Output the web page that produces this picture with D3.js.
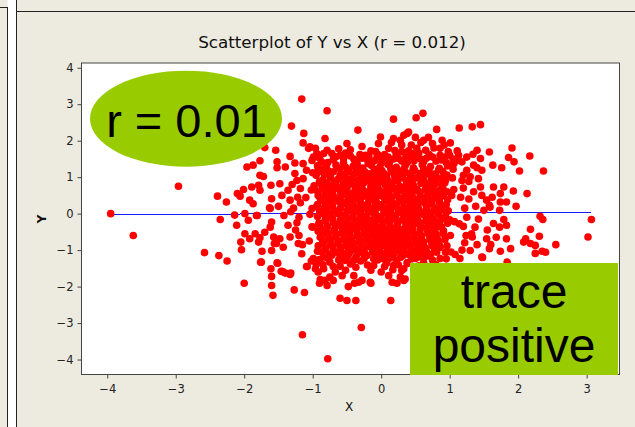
<!DOCTYPE html>
<html>
<head>
<meta charset="utf-8">
<script src="https://cdn.jsdelivr.net/npm/d3@7/dist/d3.min.js"></script>
<style>
  html, body { margin: 0; padding: 0; background: #EDEAE0; }
  svg { display: block; }
  text { font-family: "Liberation Sans", Arial, sans-serif; }
</style>
</head>
<body>
<svg id="chart" width="635" height="427"></svg>
<script>
// Axis ticks
const xTicks = [-4, -3, -2, -1, 0, 1, 2, 3];
const yTicks = [-4, -3, -2, -1, 0, 1, 2, 3, 4];

// Fitted regression line end points (X, Y)
const fitX = [-3.95, 3.07];
const fitY = [-0.03, 0.045];

// Sparse points away from the centre of the cloud
const tailPoints = [
  [-3.95,0.00],[-2.96,0.75],[-3.62,-0.60],[-2.58,-1.07],[-2.37,-1.15],[-2.25,-1.30],
  [-2.39,0.48],[-2.26,0.32],[-2.35,-0.16],[-2.14,-0.04],[-2.10,0.55],[-2.11,-0.32],
  [-2.05,-0.78],[-2.04,-0.99],[-2.00,-1.91],[-1.99,0.00],[-1.94,-0.18],[-1.99,-0.55],
  [-1.92,-0.69],[-1.87,0.27],[-1.81,-0.05],[-1.84,-0.55],[-1.77,-0.66],[-1.79,-0.78],
  [-1.74,-1.03],[-1.76,-1.33],[-1.63,0.16],[-1.70,-0.51],[-1.62,-0.37],[-1.60,-0.23],
  [-1.57,-0.64],[-1.56,-0.82],[-1.60,-1.01],[-1.53,-0.82],[-1.52,-1.35],[-1.61,-1.51],
  [-1.60,-1.72],[-1.60,-1.97],[-1.58,-2.24],[-1.46,-1.58],[-1.40,-1.63],[-1.33,-1.67],
  [-1.27,-2.09],[-1.12,-2.16],[-1.48,-0.69],[-1.43,-0.92],[-1.36,-0.32],[-1.33,-0.64],
  [-1.21,-0.82],[-1.16,-1.10],[-1.09,-1.45],[-0.99,-1.23],[-0.96,-1.51],[-0.90,-1.91],
  [-0.89,-1.81],[-0.92,-1.60],[-1.08,-1.45],[-1.32,-1.63],[-1.44,-1.59],[-1.51,-1.36],
  [-1.75,-1.33],[-0.75,-1.33],[-0.70,-1.83],[-0.75,-1.74],[-0.57,-1.70],[-0.53,-1.28],
  [-0.37,-1.47],[-0.40,-1.70],[-0.33,-1.88],[-0.25,-1.05],[-0.11,-1.24],[0.03,-1.24],
  [0.17,-1.54],[0.28,-1.74],[0.33,-1.83],[0.23,-1.91],[0.33,-1.51],[0.11,-1.70],
  [-0.67,-1.60],[-0.28,-1.83],[-0.16,-1.88],[-0.39,-1.91],[-0.11,-1.42],[0.00,-1.60],
  [0.16,-1.88],[0.30,-1.56],[0.35,-1.79],[0.38,-1.37],[-0.84,-1.51],[-0.82,-1.83],
  [-0.79,-1.97],[-1.15,-3.32],[-0.78,-3.98],[-0.60,-2.32],[-0.50,-2.38],[-0.37,-2.38],
  [-0.29,-3.12],[0.14,-2.38],[-0.15,-1.91],[-0.48,-2.00],
  [-1.16,3.14],[-0.79,2.82],[-1.31,2.40],[-1.13,2.20],[-1.14,1.94],[-1.06,1.79],
  [-0.96,1.79],[-0.82,2.06],[-0.99,1.55],[-1.54,1.74],[-1.70,1.81],[-1.33,1.57],
  [-1.52,1.42],[-1.77,1.45],[-1.87,1.33],[-1.96,1.28],[-1.52,1.26],[-1.40,1.28],
  [-1.26,1.39],[-1.14,1.37],[-0.92,1.24],[-1.77,1.05],[-1.72,1.02],[-1.61,0.78],
  [-1.77,0.64],[-1.79,0.78],[-1.89,0.73],[-2.01,0.66],[-2.06,0.48],[-1.92,0.37],
  [-1.82,-0.05],[-1.62,0.14],[-1.60,0.41],[-1.48,0.82],[-1.36,0.64],[-1.33,0.37],
  [-1.23,0.91],[-1.18,0.69],[-1.14,0.96],[-1.09,1.19],[-1.01,1.46],[-0.94,1.65],
  [-0.87,1.42],[-0.79,1.74],[-0.95,1.05],
  [-0.34,2.29],[-0.50,1.92],[0.18,2.59],[0.51,2.63],[0.61,2.75],[0.40,2.24],
  [-0.01,2.10],[-0.04,1.92],[0.18,2.06],[0.28,2.01],[0.33,2.15],[0.52,1.79],
  [0.62,2.01],[0.11,1.79],[-0.23,1.60],[-0.36,1.45],[-0.19,1.37],[-0.06,1.55],
  [-0.55,1.51],[-0.60,1.60],[-0.72,1.65],[-1.04,1.83],[0.30,1.88],[-0.38,1.42],
  [-0.84,1.65],
  [0.38,2.20],[0.50,2.09],[0.69,2.09],[0.81,2.31],[1.14,2.35],[1.33,2.38],
  [1.45,2.44],[0.89,2.01],[1.01,1.94],[0.86,1.79],[1.11,1.72],[1.40,1.74],
  [1.58,1.69],[1.91,1.80],[2.17,1.58],[2.37,1.17],[2.02,1.17],[1.86,1.54],
  [1.94,1.42],[1.76,1.26],[1.63,1.33],[1.45,1.51],[1.34,1.63],[1.40,1.26],
  [1.79,0.73],[1.93,0.62],[2.13,0.55],[1.97,0.20],[1.74,0.32],[1.83,0.32],
  [1.47,0.50],[1.54,0.37],[1.58,0.23],[1.73,0.09],[2.32,-0.07],[2.36,-0.16],
  [3.07,-0.16],[3.02,-0.64],[2.18,-0.43],[2.31,-0.62],[2.11,-0.69],[2.08,-0.78],
  [2.18,-0.82],[2.25,-0.87],[2.35,-1.03],[2.55,-0.85],[1.83,-0.69],[1.89,-0.96],
  [1.74,-1.03],[1.84,-1.33],[1.58,-0.96],[1.64,-0.27],[1.73,-0.37],[1.83,-0.32],
  [1.79,-0.16],[1.54,-0.69],[1.47,-1.19],[1.30,-1.01],[1.33,-0.64],[1.37,-0.37],
  [1.59,0.18],[1.50,0.09],[1.74,0.55],[1.64,0.73],[1.45,0.73],[1.42,0.96],
  [1.47,1.19],[1.35,1.33],[1.25,1.19],[1.30,1.01],[1.18,0.91],[1.25,1.55],
  [1.18,1.42],[1.13,1.60],[1.06,1.37],
  [0.32,-1.15],[0.38,-1.34],[0.57,-1.06],[0.72,-1.12],[0.94,-1.06],[1.08,-1.12],
  [1.48,-1.20],[2.25,-1.09],[2.40,-1.06],[1.15,-1.23],[0.86,-1.23],[0.50,-1.23],
  [0.64,-1.01],
  [1.20,0.70],[1.28,0.40],[1.22,0.15],[1.35,0.60],[1.25,-0.10],[1.38,0.20],
  [1.20,-0.35],[1.32,-0.55],[1.22,-0.80],[1.40,-0.85],[1.18,-1.00],[1.28,0.88],
  [1.42,-0.15],[1.55,-0.45],[1.62,0.45],[1.68,-0.65],[1.60,-0.85],
  [-1.22,0.45],[-1.28,0.15],[-1.20,-0.10],[-1.25,-0.45],[-1.30,0.80],[-1.45,0.50],
  [-1.50,0.20],[-1.42,-0.05],[-1.20,-0.60],[-1.26,1.10],
  [-0.90,1.52],[-0.78,1.40],[-0.66,1.56],[-0.52,1.66],[-0.40,1.50],[-0.31,1.62],
  [-0.20,1.48],[-0.08,1.70],[0.02,1.50],[0.12,1.40],[0.22,1.62],[0.36,1.55],
  [0.48,1.45],[0.55,1.66],[0.66,1.52],[0.77,1.80],[0.86,1.60],[0.98,1.70],
  [1.05,1.50],[0.15,1.95],[-0.28,1.84],[0.58,1.95],[0.92,1.88],[-0.45,1.75],[0.40,1.72],
  [-1.02,-1.30],[-0.70,-1.45],[-0.52,-1.55],[-0.30,-1.30],[-0.15,-1.55],[0.08,-1.35],
  [0.18,-1.42],[-0.95,-1.38],[0.62,-1.35],[0.80,-1.40],
  [-1.18,0.30],[-1.23,-0.25],[-1.15,-0.85],[-1.32,0.05],
  [1.16,0.45],[1.24,-0.60],[1.14,-0.28],[1.20,1.05],
  [-0.55,1.40],[-0.35,1.36],[-0.18,1.58],[0.00,1.38],[0.10,1.55],[0.25,1.52],
  [0.38,1.40],[0.52,1.58],[0.62,1.42],[0.75,1.55],[0.88,1.47],[1.00,1.60],
  [1.10,1.45],[0.45,1.65],[-0.05,1.62],[0.20,1.73]
];

// Dense centre of the cloud
const corePoints = [
  [-0.93,1.31],[-0.80,1.28],[-0.66,1.33],[-0.52,1.27],[-0.41,1.30],[-0.27,1.25],[-0.14,1.32],
  [-0.02,1.28],[0.10,1.35],[0.22,1.27],[0.35,1.31],[0.47,1.26],[0.60,1.34],[0.72,1.29],
  [0.85,1.24],[0.97,1.31],[1.05,1.22],
  [-0.70,1.48],[-0.45,1.58],[-0.28,1.52],[-0.10,1.45],[0.05,1.62],[0.18,1.50],[0.30,1.44],
  [0.42,1.57],[0.58,1.49],[0.70,1.62],[0.80,1.44],[0.93,1.55],[0.65,1.74],[0.30,1.70],
  [-0.15,1.72],[0.44,1.88],[0.75,1.92],[-0.62,1.78],[0.95,1.40],
  [-1.00,1.12],[-0.90,1.16],[-0.79,1.10],[-0.70,1.15],[-0.58,1.09],[-0.49,1.14],[-0.38,1.11],
  [-0.28,1.17],[-0.17,1.09],[-0.07,1.14],[0.04,1.10],[0.15,1.16],[0.25,1.08],[0.36,1.13],
  [0.46,1.17],[0.57,1.10],[0.68,1.14],[0.79,1.09],[0.90,1.16],
  [-0.85,0.93],[-0.74,0.98],[-0.63,0.94],[-0.54,1.00],[-0.43,0.95],
  [-0.33,0.92],[-0.22,0.98],[-0.12,0.94],[-0.01,0.99],[0.09,0.93],[0.20,0.97],[0.31,1.00],
  [0.41,0.94],[0.51,0.98],[0.62,0.93],[0.73,0.99],[0.83,0.95],[0.94,0.92],[1.04,0.98],
  [-0.98,0.76],[-0.88,0.82],[-0.77,0.78],[-0.67,0.81],[-0.57,0.75],[-0.47,0.80],
  [-0.36,0.77],[-0.26,0.83],[-0.15,0.76],[-0.05,0.80],[0.06,0.78],[0.16,0.82],[0.27,0.75],
  [0.37,0.80],[0.47,0.77],[0.58,0.83],[0.68,0.76],[0.79,0.81],[0.89,0.78],
  [-1.02,0.65],[-0.92,0.59],[-0.81,0.63],[-0.71,0.60],[-0.61,0.66],[-0.50,0.61],
  [-0.40,0.58],[-0.30,0.64],[-0.19,0.60],[-0.09,0.65],[0.02,0.59],[0.12,0.63],[0.23,0.60],
  [0.33,0.66],[0.43,0.58],[0.54,0.62],[0.64,0.65],[0.75,0.59],[0.85,0.63],[0.96,0.60],
  [1.06,0.66],
  [-1.10,0.44],[-0.89,0.42],[-0.79,0.47],[-0.68,0.43],[-0.58,0.49],[-0.48,0.44],
  [-0.37,0.41],[-0.27,0.47],[-0.16,0.43],[-0.06,0.48],[0.05,0.42],[0.15,0.46],[0.26,0.43],
  [0.36,0.49],[0.46,0.44],[0.57,0.41],[0.67,0.47],[0.78,0.43],[0.88,0.48],
  [-0.93,0.25],[-0.82,0.30],[-0.72,0.26],[-0.61,0.32],[-0.51,0.27],
  [-0.41,0.24],[-0.30,0.30],[-0.20,0.26],[-0.09,0.31],[0.01,0.25],[0.12,0.29],[0.22,0.26],
  [0.32,0.32],[0.43,0.27],[0.53,0.24],[0.64,0.30],[0.74,0.26],[0.85,0.31],[0.95,0.25],
  [-1.01,0.14],[-0.90,0.08],[-0.80,0.13],[-0.69,0.09],[-0.59,0.15],[-0.49,0.10],
  [-0.38,0.07],[-0.28,0.13],[-0.17,0.09],[-0.07,0.14],[0.04,0.08],[0.14,0.12],[0.25,0.09],
  [0.35,0.15],[0.45,0.10],[0.56,0.07],[0.66,0.13],[0.77,0.09],[0.87,0.14],[0.98,0.08],
  [-1.04,-0.02],[-0.93,-0.08],[-0.83,-0.03],[-0.73,-0.07],[-0.62,-0.01],[-0.52,-0.06],
  [-0.42,-0.09],[-0.31,-0.03],[-0.21,-0.07],[-0.10,-0.02],[0.00,-0.08],[0.11,-0.04],[0.21,-0.07],
  [0.32,-0.01],[0.42,-0.06],[0.52,-0.09],[0.63,-0.03],[0.73,-0.07],[0.84,-0.02],[0.94,-0.08],
  [-0.91,-0.26],[-0.81,-0.21],[-0.70,-0.25],[-0.60,-0.19],[-0.50,-0.24],
  [-0.39,-0.27],[-0.29,-0.21],[-0.18,-0.25],[-0.08,-0.20],[0.03,-0.26],[0.13,-0.22],[0.24,-0.25],
  [0.34,-0.19],[0.44,-0.24],[0.55,-0.27],[0.65,-0.21],[0.76,-0.25],[0.86,-0.20],[0.97,-0.26],[1.07,-0.22],
  [-1.00,-0.37],[-0.89,-0.43],[-0.79,-0.38],[-0.68,-0.42],[-0.58,-0.36],[-0.48,-0.41],
  [-0.37,-0.44],[-0.27,-0.38],[-0.16,-0.42],[-0.06,-0.37],[0.05,-0.43],[0.15,-0.39],[0.26,-0.42],
  [0.36,-0.36],[0.46,-0.41],[0.57,-0.44],[0.67,-0.38],[0.78,-0.42],[0.88,-0.37],
  [-0.87,-0.60],[-0.77,-0.55],[-0.66,-0.59],[-0.56,-0.53],[-0.46,-0.58],
  [-0.35,-0.61],[-0.25,-0.55],[-0.14,-0.59],[-0.04,-0.54],[0.07,-0.60],[0.17,-0.56],[0.28,-0.59],
  [0.38,-0.53],[0.48,-0.58],[0.59,-0.61],[0.69,-0.55],[0.80,-0.59],[0.90,-0.54],[1.01,-0.60],
  [-1.05,-0.75],[-0.84,-0.77],[-0.74,-0.72],[-0.63,-0.76],[-0.53,-0.70],[-0.43,-0.75],
  [-0.32,-0.78],[-0.22,-0.72],[-0.11,-0.76],[-0.01,-0.71],[0.10,-0.77],[0.20,-0.73],[0.31,-0.76],
  [0.41,-0.70],[0.51,-0.75],[0.62,-0.78],[0.72,-0.72],[0.83,-0.76],[0.93,-0.71],
  [-0.92,-0.88],[-0.81,-0.94],[-0.71,-0.89],[-0.60,-0.93],[-0.50,-0.87],[-0.40,-0.92],
  [-0.29,-0.95],[-0.19,-0.89],[-0.08,-0.93],[0.02,-0.88],[0.13,-0.94],[0.23,-0.90],[0.34,-0.93],
  [0.44,-0.87],[0.54,-0.92],[0.65,-0.95],[0.75,-0.89],[0.86,-0.93],[0.96,-0.88],
  [-0.87,-1.05],[-0.76,-1.11],[-0.66,-1.06],[-0.55,-1.10],[-0.45,-1.04],[-0.34,-1.09],
  [-0.24,-1.12],[-0.13,-1.06],[-0.03,-1.10],[0.08,-1.05],[0.18,-1.11],[0.29,-1.07],[0.39,-1.10],
  [0.50,-1.04],[0.60,-1.09],[0.71,-1.12],[0.81,-1.06],[1.02,-1.05],
  [-0.90,-1.26],[-0.78,-1.22],[-0.62,-1.27],[-0.50,-1.21],[-0.40,-1.28],[-0.25,-1.23],[-0.05,-1.27],
  [0.12,-1.22],[0.22,-1.29],[0.45,-1.24],[0.62,-1.21],[0.75,-1.27],[0.95,-1.24],
  [-0.85,-1.40],[-0.60,-1.44],[-0.45,-1.38],[-0.20,-1.41],[0.05,-1.45],[0.25,-1.40],[0.55,-1.43]
];

// More points filling the middle of the cloud
const innerPoints = [
  [-0.86,1.22],[-0.77,1.17],[-0.61,1.24],[-0.48,1.19],[-0.35,1.23],[-0.24,1.15],
  [-0.10,1.21],[0.01,1.18],[0.14,1.24],[0.27,1.16],[0.33,1.22],[0.49,1.19],[0.62,1.23],
  [0.70,1.16],[0.84,1.20],
  [-0.83,1.07],[-0.74,1.01],[-0.60,1.05],[-0.52,0.98],[-0.41,1.06],
  [-0.29,1.02],[-0.16,1.07],[-0.06,0.99],[0.08,1.04],[0.19,1.08],[0.30,0.98],[0.43,1.05],
  [0.55,1.01],[0.64,1.08],[0.77,1.02],[0.88,0.98],[0.96,1.06],
  [-0.90,0.89],[-0.80,0.84],[-0.68,0.88],[-0.55,0.82],[-0.44,0.87],
  [-0.33,0.85],[-0.21,0.90],[-0.10,0.83],[0.03,0.87],[0.12,0.84],[0.24,0.90],[0.37,0.85],
  [0.46,0.82],[0.60,0.88],[0.71,0.84],[0.80,0.90],[0.93,0.85],
  [-0.97,0.66],[-0.86,0.72],[-0.73,0.67],[-0.64,0.71],[-0.50,0.68],[-0.38,0.73],
  [-0.27,0.66],[-0.15,0.70],[-0.04,0.67],[0.09,0.72],[0.20,0.68],[0.29,0.64],[0.41,0.71],
  [0.52,0.67],[0.66,0.73],[0.76,0.66],[0.90,0.70],
  [-0.92,0.50],[-0.81,0.54],[-0.70,0.49],[-0.59,0.55],[-0.45,0.51],
  [-0.34,0.56],[-0.23,0.50],[-0.12,0.53],[0.00,0.49],[0.10,0.55],[0.23,0.51],[0.34,0.47],
  [0.45,0.54],[0.57,0.50],[0.69,0.55],[0.80,0.49],[0.91,0.53],[1.03,0.50],
  [-0.88,0.37],[-0.77,0.33],[-0.65,0.38],[-0.55,0.31],[-0.42,0.36],
  [-0.31,0.33],[-0.18,0.38],[-0.07,0.32],[0.06,0.36],[0.16,0.31],[0.28,0.37],[0.40,0.34],
  [0.51,0.38],[0.62,0.31],[0.73,0.36],[0.85,0.33],[0.97,0.38],
  [-0.94,0.20],[-0.83,0.16],[-0.71,0.21],[-0.60,0.14],[-0.47,0.19],
  [-0.36,0.16],[-0.25,0.21],[-0.13,0.15],[-0.02,0.19],[0.10,0.16],[0.21,0.21],[0.31,0.14],
  [0.43,0.19],[0.54,0.17],[0.66,0.21],[0.78,0.15],[0.88,0.19],
  [-0.87,0.03],[-0.76,-0.01],[-0.64,0.04],[-0.53,-0.03],[-0.41,0.02],
  [-0.30,-0.01],[-0.19,0.04],[-0.08,-0.02],[0.04,0.02],[0.16,-0.03],[0.27,0.03],[0.38,0.00],
  [0.49,0.04],[0.61,-0.02],[0.72,0.03],[0.83,-0.01],[0.95,0.03],
  [-0.82,-0.18],[-0.71,-0.13],[-0.59,-0.19],[-0.48,-0.15],
  [-0.36,-0.18],[-0.25,-0.13],[-0.14,-0.19],[-0.02,-0.15],[0.09,-0.18],[0.20,-0.13],[0.31,-0.17],
  [0.43,-0.14],[0.54,-0.19],[0.66,-0.15],[0.77,-0.18],[0.89,-0.13],[1.00,-0.17],
  [-1.01,-0.36],[-0.90,-0.31],[-0.79,-0.35],[-0.67,-0.30],[-0.56,-0.36],[-0.44,-0.32],
  [-0.33,-0.35],[-0.21,-0.30],[-0.10,-0.36],[0.02,-0.32],[0.13,-0.35],[0.24,-0.30],[0.36,-0.34],
  [0.47,-0.31],[0.58,-0.36],[0.70,-0.32],[0.81,-0.35],
  [-0.92,-0.48],[-0.80,-0.52],[-0.69,-0.47],[-0.58,-0.53],[-0.46,-0.49],
  [-0.35,-0.52],[-0.23,-0.47],[-0.12,-0.53],[-0.01,-0.49],[0.11,-0.52],[0.22,-0.47],[0.34,-0.51],
  [0.45,-0.48],[0.56,-0.53],[0.68,-0.49],[0.79,-0.52],[0.91,-0.47],
  [-0.89,-0.65],[-0.77,-0.69],[-0.66,-0.64],[-0.55,-0.70],[-0.43,-0.66],
  [-0.32,-0.69],[-0.20,-0.64],[-0.09,-0.70],[0.03,-0.66],[0.14,-0.69],[0.25,-0.64],[0.37,-0.68],
  [0.48,-0.65],[0.59,-0.70],[0.71,-0.66],[0.82,-0.69],[0.94,-0.64],
  [-0.86,-0.82],[-0.74,-0.86],[-0.63,-0.81],[-0.52,-0.87],[-0.40,-0.83],
  [-0.29,-0.86],[-0.17,-0.81],[-0.06,-0.87],[0.06,-0.83],[0.17,-0.86],[0.28,-0.81],[0.40,-0.85],
  [0.51,-0.82],[0.62,-0.87],[0.74,-0.83],[0.85,-0.86],
  [-0.93,-1.03],[-0.82,-0.98],[-0.70,-1.02],[-0.59,-0.97],[-0.48,-1.03],[-0.36,-0.99],
  [-0.25,-1.02],[-0.13,-0.97],[-0.02,-1.03],[0.10,-0.99],[0.21,-1.02],[0.32,-0.97],[0.44,-1.01],
  [0.55,-0.98],[0.66,-1.03],[0.78,-0.99],
  [-0.84,-1.19],[-0.72,-1.14],[-0.60,-1.18],[-0.48,-1.13],[-0.37,-1.19],[-0.21,-1.15],
  [-0.08,-1.18],[0.05,-1.13],[0.16,-1.18],[0.28,-1.20],[0.42,-1.14],[0.55,-1.19],[0.68,-1.16]
];

const titleText = "Scatterplot of Y vs X (r = 0.012)";
const calloutR = "r = 0.01";
const calloutTrace = ["trace", "positive"];

const svg = d3.select("#chart");
const W = 635, H = 427;

// Window chrome lines
svg.append("rect").attr("x", 7.5).attr("y", 0).attr("width", 8.5).attr("height", H).attr("fill", "#FFFFFF");
svg.append("line").attr("x1", 7.5).attr("x2", 7.5).attr("y1", 7).attr("y2", H).attr("stroke", "#222").attr("stroke-width", 1);
svg.append("line").attr("x1", 0).attr("x2", 7.5).attr("y1", 7.5).attr("y2", 7.5).attr("stroke", "#222").attr("stroke-width", 1);
svg.append("line").attr("x1", 16.5).attr("x2", 16.5).attr("y1", 0).attr("y2", H).attr("stroke", "#222").attr("stroke-width", 1);
svg.append("line").attr("x1", 16.5).attr("x2", W).attr("y1", 11.5).attr("y2", 11.5).attr("stroke", "#222").attr("stroke-width", 1);

// Plot area
const plotL = 81.5, plotR = 619.5, plotT = 63, plotB = 374.5;
const x = d3.scaleLinear().domain([-4.376, 3.48]).range([plotL, plotR]);
const y = d3.scaleLinear().domain([-4.41, 4.13]).range([plotB, plotT]);

svg.append("rect").attr("x", plotL).attr("y", plotT).attr("width", plotR - plotL).attr("height", plotB - plotT)
  .attr("fill", "#FFFFFF");

// Regression line under the points
svg.append("line")
  .attr("x1", x(fitX[0])).attr("y1", y(fitY[0]))
  .attr("x2", x(fitX[1])).attr("y2", y(fitY[1]))
  .attr("stroke", "#1A1AFF").attr("stroke-width", 1).attr("shape-rendering", "crispEdges");

const allPoints = tailPoints.concat(corePoints, innerPoints);
svg.append("g").selectAll("circle").data(allPoints).join("circle")
  .attr("cx", d => x(d[0])).attr("cy", d => y(d[1])).attr("r", 3.8)
  .attr("fill", "#FF0000");

// Axes
const axisColor = "#444";
const xAxis = svg.append("g").attr("transform", `translate(0,${plotB})`)
  .call(d3.axisBottom(x).tickValues(xTicks).tickSize(4).tickPadding(6).tickFormat(d3.format("d")));
const yAxis = svg.append("g").attr("transform", `translate(${plotL},0)`)
  .call(d3.axisLeft(y).tickValues(yTicks).tickSize(4).tickPadding(4).tickFormat(d3.format("d")));
[xAxis, yAxis].forEach(g => {
  g.select(".domain").remove();
  g.selectAll("line").attr("stroke", axisColor);
  g.selectAll("text").attr("fill", "#222").style("font-family", "'DejaVu Sans', sans-serif").style("font-size", "11.5px");
});

// Frame
svg.append("rect").attr("x", plotL).attr("y", plotT).attr("width", plotR - plotL).attr("height", plotB - plotT)
  .attr("fill", "none").attr("stroke", axisColor).attr("stroke-width", 1);

// Title, fitted to its width
const title = svg.append("text").attr("x", 332).attr("y", 48).attr("text-anchor", "middle")
  .style("font-family", "'DejaVu Sans', sans-serif").style("font-size", "13.5px").attr("fill", "#111").text(titleText);
const tw = title.node().getComputedTextLength();
if (tw > 0) title.style("font-size", (13.5 * 268 / tw).toFixed(2) + "px");

svg.append("text").attr("x", 349).attr("y", 411).attr("text-anchor", "middle")
  .style("font-family", "'DejaVu Sans', sans-serif").style("font-size", "12px").attr("fill", "#111").text("X");
svg.append("text").attr("transform", "translate(46,219) rotate(-90)").attr("text-anchor", "middle")
  .style("font-family", "'DejaVu Sans', sans-serif").style("font-size", "12px").style("font-weight", "bold")
  .attr("fill", "#111").text("Y");

// Callouts
svg.append("ellipse").attr("cx", 186).attr("cy", 118.7).attr("rx", 96).attr("ry", 48).attr("fill", "#99CC00");
svg.append("text").attr("x", 186.5).attr("y", 137).attr("text-anchor", "middle")
  .style("font-size", "47px").attr("fill", "#000").text(calloutR);

svg.append("rect").attr("x", 410).attr("y", 263).attr("width", 208).attr("height", 112).attr("fill", "#99CC00");
svg.append("text").attr("x", 514).attr("y", 308).attr("text-anchor", "middle")
  .style("font-size", "48px").attr("fill", "#000").text(calloutTrace[0]);
svg.append("text").attr("x", 514).attr("y", 362).attr("text-anchor", "middle")
  .style("font-size", "48px").attr("fill", "#000").text(calloutTrace[1]);
</script>
</body>
</html>
